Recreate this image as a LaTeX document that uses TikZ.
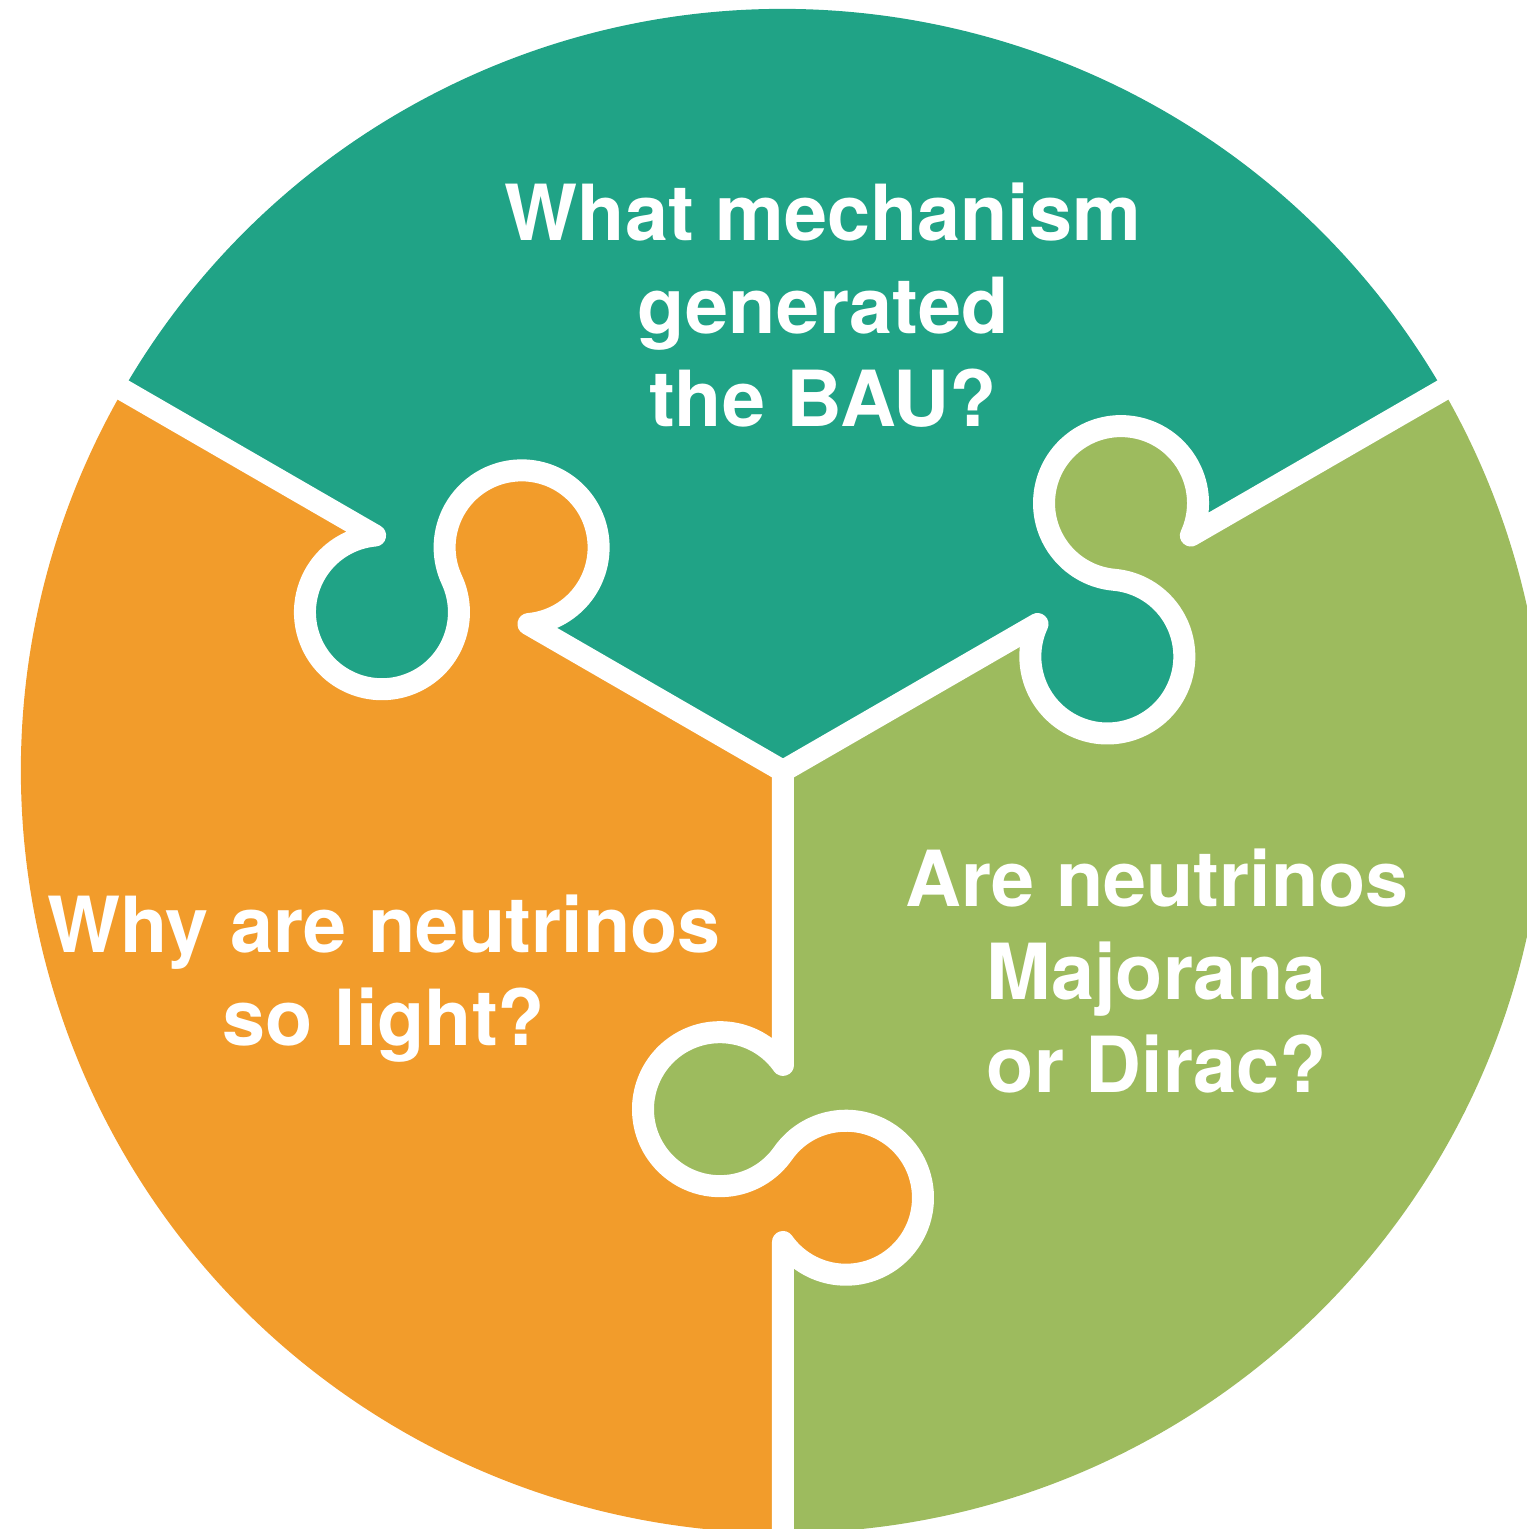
\documentclass[tikz,border=0pt]{standalone}
\usepackage{fontspec}
\setmainfont{TeX Gyre Heros}
\usepackage{tikz}
\definecolor{verdeacqua}{HTML}{20A386}
\definecolor{arancio}{HTML}{F29C2B}
\definecolor{verde}{HTML}{9DBB5E}

\begin{document}
\begin{tikzpicture}[x=0.01cm, y=0.01cm,
    bordo/.style={white, line width=0.22cm, line join=round, line cap=round},
    domanda/.style={white, align=center, font=\bfseries\fontsize{22}{26.5}\selectfont}]
        \useasboundingbox (-783,-758) rectangle (744,771);
        % settori
        \fill[verdeacqua] (0,0) -- (30:762) arc (30:150:762) -- cycle;
        \fill[arancio] (0,0) -- (150:762) arc (150:270:762) -- cycle;
        \fill[verde] (0,0) -- (270:762) arc (270:390:762) -- cycle;
        % incastri e tagli
        \foreach \ang/\cpiu/\cmeno in {-90/verde/arancio, 30/verdeacqua/verde, 150/arancio/verdeacqua} {
            \begin{scope}[rotate=\ang]
                \fill[\cpiu] (338.2,-63) circle (77);
                \fill[\cmeno] (426.8,63) circle (77);
                \draw[bordo] (0,0) -- (293.9,0) arc (125.1:414.9:77) arc (234.9:-54.9:77) -- (800,0);
            \end{scope}
        }
        % domande
        \node[domanda] (bau) at (40,466) {What mechanism\\generated\\the BAU?};
        \node[domanda] (light) at (-399,-208) {Why are neutrinos\\so light?};
        \node[domanda] (majo) at (374,-200) {Are neutrinos\\Majorana\\or Dirac?};
    \end{tikzpicture}
\end{document}
